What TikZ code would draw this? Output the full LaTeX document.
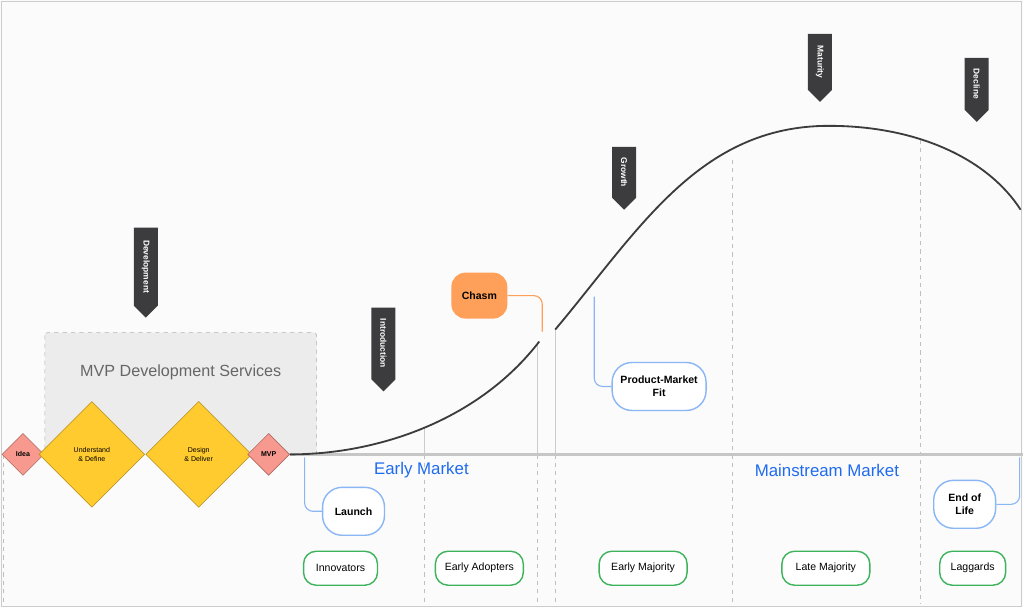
\documentclass[tikz,border=0pt]{standalone}
\usepackage{fontspec}
\setmainfont{Liberation Sans}
\usetikzlibrary{shapes.geometric,positioning}
\definecolor{markgray}{HTML}{3C3C3E}
\definecolor{diayel}{HTML}{FFCB2F}
\definecolor{diared}{HTML}{F7998E}
\definecolor{chasmor}{HTML}{FFA05A}
\definecolor{linkblue}{HTML}{8AB6F5}
\definecolor{segreen}{HTML}{3DB35C}
\definecolor{mktblue}{HTML}{1F6BF0}
\tikzset{
	stage/.style={diamond,draw=diared!70!black,fill=diared,inner sep=0pt,font=\fontsize{5}{6}\selectfont\bfseries,align=center},
	phase/.style={diamond,draw=diayel!70!black,fill=diayel,inner sep=0pt,font=\fontsize{5}{6}\selectfont,align=center},
	segment/.style={draw=segreen,line width=1pt,rounded corners=9pt,fill=white,minimum width=#1,minimum height=0.85cm,font=\fontsize{7.5}{9}\selectfont},
	event/.style={draw=linkblue,line width=1pt,rounded corners=14pt,fill=white,minimum width=#1,minimum height=1.2cm,align=center,font=\fontsize{7.5}{9}\selectfont\bfseries},
	link/.style={draw=linkblue,line width=0.8pt,rounded corners=6pt},
	divider/.style={gray!50,dashed,line width=0.4pt},
	market/.style={text=mktblue,font=\fontsize{12}{14}\selectfont}
}
% downward flag with vertical label
\newcommand{\flagmark}[4]{%
	\fill[markgray] (#1-12,#2) -- (#1+12,#2) -- (#1+12,#3-12) -- (#1,#3) -- (#1-12,#3-12) -- cycle;
	\node[rotate=-90,text=white,font=\fontsize{6}{7}\selectfont\bfseries] at (#1,{#2+(#3-12-#2)/2}) {#4};}
\begin{document}
\begin{tikzpicture}[x=0.025cm,y=-0.025cm]
	\fill[white!97!gray] (0,0) rectangle (1024,608);
	\draw[gray!40,line width=0.4pt] (1,1) rectangle (1023,607);
	
	%market dividers
	\draw[divider] (3,455) -- (3,605);
	\draw[gray!40,line width=0.6pt] (425,428) -- (425,455);
	\draw[gray!40,line width=0.6pt] (538,342) -- (538,455);
	\draw[gray!40,line width=0.6pt] (556,330) -- (556,455);
	\draw[divider] (425,455) -- (425,605);
	\draw[divider] (538,455) -- (538,605);
	\draw[divider] (556,455) -- (556,605);
	\draw[divider] (733,160) -- (733,605);
	\draw[divider] (922,140) -- (922,605);
	\draw[gray!45,line width=2pt] (290,455) -- (1024,455);
	
	%mvp box
	\draw[gray!60,dashed,fill=gray!15,rounded corners=2pt] (45,333) rectangle (317,455);
	\node[text=gray!80!black,font=\fontsize{11.5}{13}\selectfont] (title) at (181,373) {MVP Development Services};
	
	\node[stage,minimum size=1.05cm] (idea) at (23,455) {Idea};
	\node[phase,minimum size=2.65cm] (understand) at (92,455) {Understand\\\& Define};
	\node[phase,minimum size=2.65cm] (design) at (199,455) {Design\\\& Deliver};
	\node[stage,minimum size=1.05cm] (mvp) at (269,455) {MVP};
	
	%adoption curve
	\draw[markgray,line width=1.3pt] (mvp.east) .. controls (380,455) and (480,420) .. (540,342);
	\draw[markgray,line width=1.3pt] (556,330) .. controls (640,230) and (700,126) .. (830,126)
		.. controls (920,126) and (990,160) .. (1022,210);
	
	%phase flags
	\flagmark{146}{228}{318}{Development}
	\flagmark{384}{308}{392}{Introduction}
	\flagmark{625}{147}{210}{Growth}
	\flagmark{821}{34}{102}{Maturity}
	\flagmark{978}{58}{122}{Decline}
	
	\node[fill=chasmor,rounded corners=10pt,minimum width=1.4cm,minimum height=1.15cm,font=\fontsize{7.5}{9}\selectfont\bfseries] (chasm) at (480,296) {Chasm};
	\coordinate (gap) at (543,332);
	\draw[draw=chasmor,line width=0.8pt,rounded corners=6pt] (chasm.east) -| (gap);
	
	\node[event=2.35cm] (pmf) at (660,387) {Product-Market\\Fit};
	\coordinate (pmftop) at (595,297);
	\draw[link] (pmftop) |- (pmf.west);
	
	\node[event=1.55cm] (launch) at (354,512) {Launch};
	\coordinate (launchtop) at (305,458);
	\draw[link] (launchtop) |- (launch.west);
	
	\node[event=1.55cm] (eol) at (966,505) {End of\\Life};
	\coordinate (eoltop) at (1021,458);
	\draw[link] (eoltop) |- (eol.east);
	
	\node[market] (early) at (422,471) {Early Market};
	\node[market] (mainstream) at (828,471) {Mainstream Market};
	
	%segments
	\node[segment=1.85cm] (innov) at (341,569) {Innovators};
	\node[segment=2.2cm] (adopt) at (480,569) {Early Adopters};
	\node[segment=2.2cm] (emaj) at (644,569) {Early Majority};
	\node[segment=2.2cm] (lmaj) at (827,569) {Late Majority};
	\node[segment=1.65cm] (lag) at (974,569) {Laggards};
\end{tikzpicture}
\end{document}
